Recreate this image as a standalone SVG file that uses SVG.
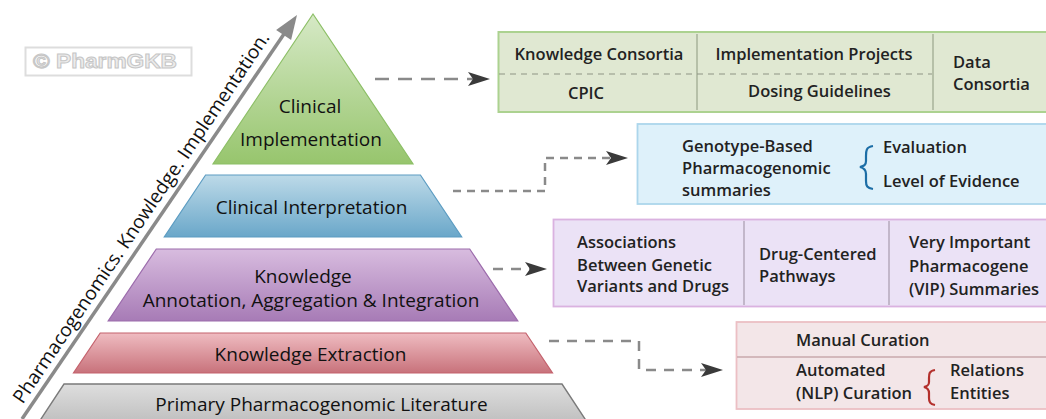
<svg xmlns="http://www.w3.org/2000/svg" width="1046" height="419" viewBox="0 0 1046 419">
<defs>
<linearGradient id="gGreen" x1="0" y1="0" x2="0" y2="1"><stop offset="0" stop-color="#d6e9c6"/><stop offset="1" stop-color="#97c56d"/></linearGradient>
<linearGradient id="gBlue" x1="0" y1="0" x2="0" y2="1"><stop offset="0" stop-color="#bddae8"/><stop offset="1" stop-color="#6aa7c9"/></linearGradient>
<linearGradient id="gPurple" x1="0" y1="0" x2="0" y2="1"><stop offset="0" stop-color="#d8bcdf"/><stop offset="1" stop-color="#a77bb6"/></linearGradient>
<linearGradient id="gRed" x1="0" y1="0" x2="0" y2="1"><stop offset="0" stop-color="#efbcc1"/><stop offset="1" stop-color="#c8727b"/></linearGradient>
<linearGradient id="gGray" x1="0" y1="0" x2="0" y2="1"><stop offset="0" stop-color="#dedede"/><stop offset="1" stop-color="#bdbdbd"/></linearGradient>
<marker id="arr" markerUnits="userSpaceOnUse" viewBox="-8 -8 23 16" markerWidth="23" markerHeight="16" refX="0" refY="0" orient="auto">
<path d="M14,0 L-8,-7 L-3,0 L-8,7 Z" fill="#3a3a3a"/>
</marker>
</defs>
<style>
.pt{font-family:"Open Sans","Noto Sans",sans-serif;font-size:19px;fill:#111;text-anchor:middle}
.bt{font-family:"Open Sans","Noto Sans",sans-serif;font-size:16.5px;font-weight:600;fill:#222}
.mid{text-anchor:middle}
.conn{fill:none;stroke:#8a8a8a;stroke-width:2.5}
.sep{stroke-width:1.5;fill:none}
</style>
<rect width="1046" height="419" fill="#ffffff"/>

<g id="watermark">
<rect x="25.5" y="47.5" width="166" height="28" fill="none" stroke="#dddddd" stroke-width="2"/>
<text x="33" y="68" font-family="'Liberation Sans',Arial,sans-serif" font-size="21" font-weight="bold" fill="#ececec" stroke="#c6c6c6" stroke-width="1" textLength="144" lengthAdjust="spacingAndGlyphs">© PharmGKB</text>
</g>

<g id="axis">
<line x1="22" y1="419" x2="284" y2="34" stroke="#8a8a8a" stroke-width="3.5"/>
<path d="M297,15 L291.1,39.9 L283.6,34.9 L276.1,29.9 Z" fill="#8a8a8a"/>
<text x="22.7" y="404.8" transform="rotate(-56 22.7 404.8)" font-family="'Open Sans','Noto Sans',sans-serif" font-size="19" fill="#111" textLength="443" lengthAdjust="spacingAndGlyphs">Pharmacogenomics. Knowledge. Implementation.</text>
</g>

<g id="level-clinical-implementation">
<path d="M313,14 L413,164 L213,164 Z" fill="url(#gGreen)" stroke="#8cbf66" stroke-width="1.2"/>
<text class="pt" x="310" y="113">Clinical</text>
<text class="pt" x="311" y="146">Implementation</text>
</g>
<g id="level-clinical-interpretation">
<path d="M205.6,175 L420.4,175 L461.7,237 L164.3,237 Z" fill="url(#gBlue)" stroke="#5c9cc2" stroke-width="1.2"/>
<text class="pt" x="311.5" y="214">Clinical Interpretation</text>
</g>
<g id="level-knowledge-annotation">
<path d="M156.3,249 L469.7,249 L517.8,321 L108.2,321 Z" fill="url(#gPurple)" stroke="#9c6cac" stroke-width="1.2"/>
<text class="pt" x="303" y="283">Knowledge</text>
<text class="pt" x="311" y="307">Annotation, Aggregation &amp; Integration</text>
</g>
<g id="level-knowledge-extraction">
<path d="M100.2,333 L525.8,333 L552.5,373 L73.5,373 Z" fill="url(#gRed)" stroke="#c4626d" stroke-width="1.2"/>
<text class="pt" x="310.5" y="361">Knowledge Extraction</text>
</g>
<g id="level-primary-literature">
<path d="M64,384 L562,384 L589,425 L37,425 Z" fill="url(#gGray)" stroke="#7a7a7a" stroke-width="1.4"/>
<text class="pt" x="321.5" y="411">Primary Pharmacogenomic Literature</text>
</g>

<g id="box-implementation">
<rect x="498.5" y="32" width="560" height="80" fill="#e0e8d2" stroke="#acd290" stroke-width="2"/>
<line class="sep" x1="697" y1="34" x2="697" y2="110" stroke="#a9b39a"/>
<line class="sep" x1="933" y1="34" x2="933" y2="110" stroke="#a9b39a"/>
<line x1="499" y1="74" x2="932" y2="74" stroke="#8e9484" stroke-width="1.2" stroke-dasharray="6 5"/>
<text class="bt mid" x="599" y="60">Knowledge Consortia</text>
<text class="bt mid" x="586" y="99">CPIC</text>
<text class="bt mid" x="814" y="60">Implementation Projects</text>
<text class="bt mid" x="819.5" y="97">Dosing Guidelines</text>
<text class="bt" x="953" y="68">Data</text>
<text class="bt" x="953" y="90">Consortia</text>
</g>

<g id="box-interpretation">
<rect x="637.5" y="124" width="420" height="80" fill="#def1fa" stroke="#acd6ec" stroke-width="1.8"/>
<text class="bt" x="682" y="151.5">Genotype-Based</text>
<text class="bt" x="682" y="174">Pharmacogenomic</text>
<text class="bt" x="682" y="195.5">summaries</text>
<path d="M873,146 C866,147 866,151 866,156 L866,161 C866,165 864,166 860,167 C864,168 866,170 866,174 L866,181 C866,186 867,188 873,189" fill="none" stroke="#1c6ea6" stroke-width="2.2"/>
<text class="bt" x="883" y="153.3">Evaluation</text>
<text class="bt" x="883" y="186.7">Level of Evidence</text>
</g>

<g id="box-annotation">
<rect x="553.5" y="219.5" width="500" height="87" fill="#ebe2f6" stroke="#dab2e0" stroke-width="1.8"/>
<line class="sep" x1="744" y1="221" x2="744" y2="305" stroke="#b5a9bb"/>
<line class="sep" x1="889" y1="221" x2="889" y2="305" stroke="#b5a9bb"/>
<text class="bt" x="577" y="248.3">Associations</text>
<text class="bt" x="577" y="270.7">Between Genetic</text>
<text class="bt" x="577" y="292.3">Variants and Drugs</text>
<text class="bt" x="759" y="260">Drug-Centered</text>
<text class="bt" x="759" y="282.3">Pathways</text>
<text class="bt" x="909" y="248.3">Very Important</text>
<text class="bt" x="909" y="272">Pharmacogene</text>
<text class="bt" x="909" y="295">(VIP) Summaries</text>
</g>

<g id="box-extraction">
<rect x="736.5" y="322" width="320" height="87" fill="#f3e6e8" stroke="#ecbfc4" stroke-width="1.8"/>
<line x1="737" y1="357" x2="1046" y2="357" stroke="#c9a9ac" stroke-width="1.5"/>
<text class="bt" x="796" y="346">Manual Curation</text>
<text class="bt" x="796" y="376">Automated</text>
<text class="bt" x="796" y="399.3">(NLP) Curation</text>
<path d="M935,370 C929,371 929,374 929,378 L929,382 C929,385 928,386 924,387 C928,388 929,390 929,393 L929,398 C929,402 930,404 935,405" fill="none" stroke="#b3302c" stroke-width="2.2"/>
<text class="bt" x="950" y="376">Relations</text>
<text class="bt" x="950" y="399.3">Entities</text>
</g>

<g id="connectors">
<path class="conn" d="M375,79 H476" stroke-dasharray="14 9" marker-end="url(#arr)"/>
<path class="conn" d="M453,191 H545 V158 H614" stroke-dasharray="8 6" marker-end="url(#arr)"/>
<path class="conn" d="M493,269 H533" stroke-dasharray="10 8" marker-end="url(#arr)"/>
<path class="conn" d="M549,341 H639 V370 H709" stroke-dasharray="10 8" marker-end="url(#arr)"/>
</g>
</svg>
